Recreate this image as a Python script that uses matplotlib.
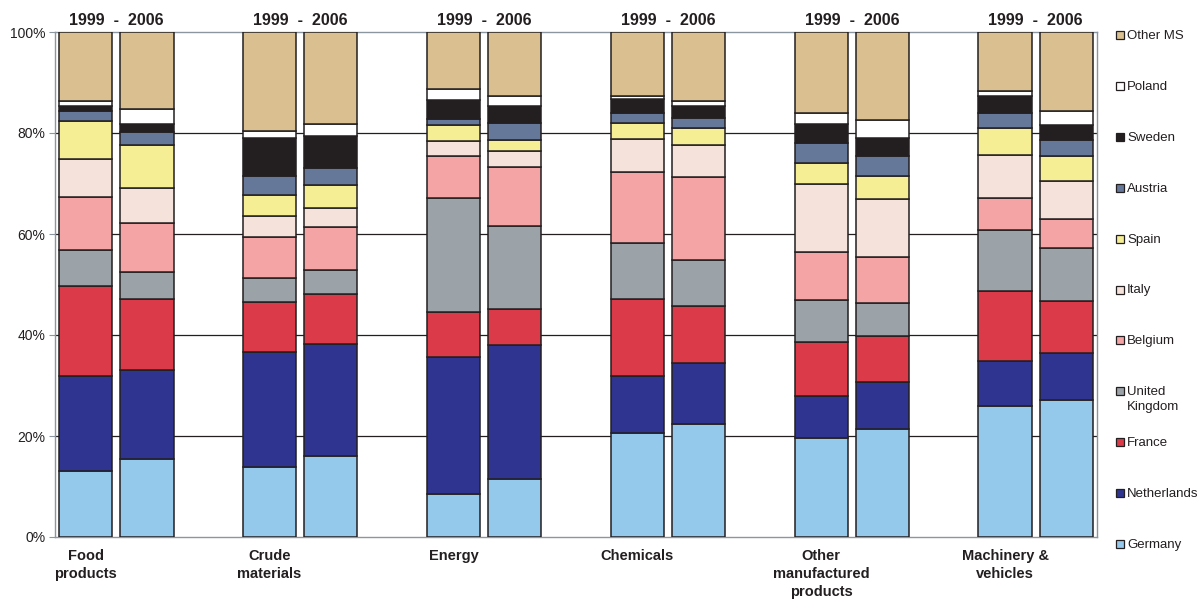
import matplotlib
matplotlib.use("Agg")
import matplotlib.pyplot as plt
from matplotlib.patches import Rectangle
import numpy as np

plt.rcParams['font.family'] = ['Liberation Sans', 'DejaVu Sans']

# Product groups (each shown as a 1999 bar and a 2006 bar)
categories = ["Food\nproducts", "Crude\nmaterials", "Energy", "Chemicals",
              "Other\nmanufactured\nproducts", "Machinery &\nvehicles"]
years = ["1999", "2006"]

# Country shares (%) stacked bottom to top, ordered per bar:
# Food 99, Food 06, Crude 99, Crude 06, Energy 99, Energy 06,
# Chem 99, Chem 06, Other 99, Other 06, Mach 99, Mach 06
germany     = [13.1, 15.4, 13.8, 16.0,  8.5, 11.4, 20.5, 22.4, 19.6, 21.4, 25.9, 27.2]
netherlands = [18.8, 17.6, 22.8, 22.3, 27.1, 26.6, 11.4, 12.0,  8.3,  9.3,  9.0,  9.2]
france      = [17.9, 14.1,  9.9,  9.8,  9.0,  7.1, 15.2, 11.3, 10.7,  9.2, 13.8, 10.4]
united_kingdom = [7.0, 5.4,  4.8,  4.8, 22.5, 16.5, 11.2,  9.2,  8.3,  6.5, 12.0, 10.4]
belgium     = [10.6,  9.7,  8.1,  8.4,  8.4, 11.7, 13.9, 16.4,  9.5,  9.1,  6.4,  5.8]
italy       = [ 7.5,  7.0,  4.2,  3.8,  3.0,  3.1,  6.7,  6.3, 13.5, 11.4,  8.5,  7.5]
spain       = [ 7.5,  8.4,  4.2,  4.6,  3.1,  2.2,  3.1,  3.4,  4.2,  4.6,  5.3,  4.9]
austria     = [ 2.0,  2.5,  3.7,  3.3,  1.2,  3.4,  2.0,  2.0,  4.0,  4.0,  3.0,  3.3]
sweden      = [ 0.9,  1.6,  7.6,  6.5,  3.7,  3.3,  2.8,  2.3,  3.6,  3.5,  3.5,  2.9]
poland      = [ 1.1,  3.1,  1.2,  2.2,  2.3,  2.1,  0.5,  1.1,  2.2,  3.6,  0.9,  2.8]
other_ms    = [13.6, 15.2, 19.7, 18.3, 11.2, 12.6, 12.7, 13.6, 16.1, 17.4, 11.7, 15.6]

series = [
    ("Germany", germany, "#95C9EC"),
    ("Netherlands", netherlands, "#2E3490"),
    ("France", france, "#DB3B48"),
    ("United\nKingdom", united_kingdom, "#9BA2A8"),
    ("Belgium", belgium, "#F4A4A5"),
    ("Italy", italy, "#F5E3DB"),
    ("Spain", spain, "#F6EE95"),
    ("Austria", austria, "#667899"),
    ("Sweden", sweden, "#231F20"),
    ("Poland", poland, "#FFFFFF"),
    ("Other MS", other_ms, "#DAC091"),
]

W, H = 1201, 601
fig = plt.figure(figsize=(W / 100, H / 100), dpi=100)
ax = fig.add_axes([55 / W, 64 / H, (1097 - 55) / W, (537 - 32) / H])

# bar positions: two slots per group, one empty slot between groups
xpos = []
for g in range(len(categories)):
    xpos += [3 * g, 3 * g + 1]
xpos = np.array(xpos, dtype=float)

edge = "#231F20"
bottom = np.zeros(len(xpos))
for name, vals, col in series:
    v = np.array(vals)
    ax.bar(xpos, v, bottom=bottom, width=0.87, color=col, edgecolor=edge,
           linewidth=1.1, zorder=3)
    bottom += v

ax.set_xlim(-0.5, 3 * len(categories) - 1.5)
ax.set_ylim(0, 100)
ax.set_yticks(np.arange(0, 101, 20))
ax.set_yticklabels([f"{t}%" for t in range(0, 101, 20)], fontsize=10, color="#231F20")
ax.tick_params(axis="y", length=4, width=0.8, color="#8C96A0", pad=3)
ax.set_xticks([])
for y in [20, 40, 60, 80]:
    ax.axhline(y, color="#231F20", linewidth=0.9, zorder=1)
for s in ax.spines.values():
    s.set_color("#8C96A0")
    s.set_linewidth(1.0)

# year labels above each group and category names below
for g, cat in enumerate(categories):
    x0 = 3 * g
    ax.text(x0 + 0.5, 101.4, "1999  -  2006", ha="center", va="baseline",
            fontsize=11.5, fontweight="bold", color="#231F20")
    ax.text(x0, -2.4, cat, ha="center", va="top", fontsize=10.5,
            fontweight="bold", color="#231F20", linespacing=1.35)

# legend on the right, top entry first
leg_y0, leg_dy = 35, 50.9
for i, (name, vals, col) in enumerate(reversed(series)):
    yc = leg_y0 + i * leg_dy
    fig.patches.append(Rectangle((1116 / W, 1 - (yc + 4) / H), 8 / W, 8 / H,
                                 transform=fig.transFigure, facecolor=col,
                                 edgecolor=edge, linewidth=0.9))
    fig.text(1127 / W, 1 - (yc - 5) / H, name, ha="left", va="top",
             fontsize=9.5, color="#231F20", linespacing=1.25)

fig.savefig("out.png", dpi=100, facecolor="white")
